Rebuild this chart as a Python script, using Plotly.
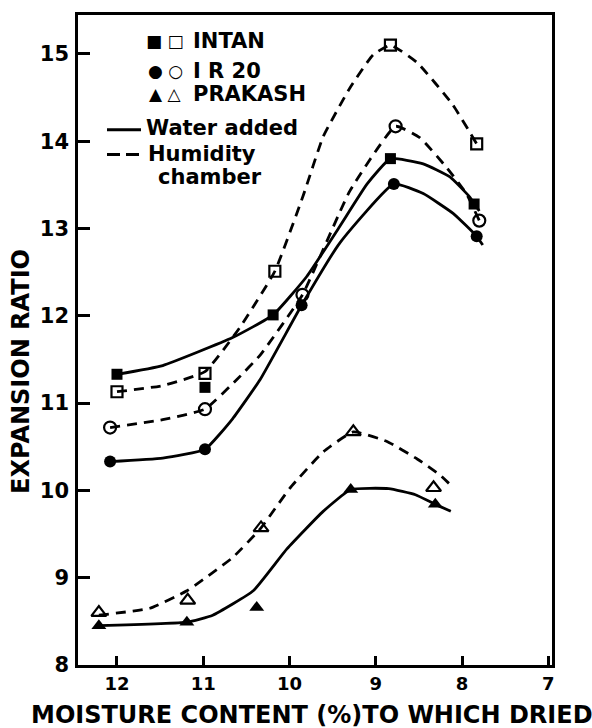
import plotly.graph_objects as go

# Measured points: moisture content (%) vs expansion ratio
intan_water_x = [12.0, 10.98, 10.19, 8.83, 7.86]
intan_water_y = [11.33, 11.18, 12.01, 13.80, 13.28]
intan_hum_x = [12.0, 10.98, 10.17, 8.83, 7.83]
intan_hum_y = [11.13, 11.34, 12.51, 15.10, 13.97]
ir20_water_x = [12.08, 10.98, 9.86, 8.79, 7.83]
ir20_water_y = [10.33, 10.47, 12.12, 13.51, 12.91]
ir20_hum_x = [12.08, 10.98, 9.85, 8.77, 7.80]
ir20_hum_y = [10.72, 10.93, 12.24, 14.17, 13.09]
prakash_water_x = [12.21, 11.19, 10.38, 9.29, 8.31]
prakash_water_y = [8.45, 8.49, 8.66, 10.01, 9.84]
prakash_hum_x = [12.21, 11.18, 10.33, 9.26, 8.33]
prakash_hum_y = [8.60, 8.74, 9.57, 10.67, 10.03]

# Hand-fitted trend curves
intan_water_cx = [12.0, 11.47, 10.66, 10.19, 9.80, 9.42, 9.10, 8.83, 8.45, 8.14, 7.91, 7.80]
intan_water_cy = [11.33, 11.43, 11.75, 12.01, 12.45, 13.02, 13.51, 13.80, 13.74, 13.59, 13.36, 13.20]
intan_hum_cx = [12.0, 11.47, 10.98, 10.58, 10.17, 9.84, 9.61, 9.30, 9.03, 8.83, 8.52, 8.11, 7.83]
intan_hum_cy = [11.13, 11.20, 11.36, 11.86, 12.51, 13.38, 14.05, 14.61, 14.99, 15.10, 14.90, 14.42, 13.97]
ir20_water_cx = [12.08, 11.47, 10.98, 10.66, 10.34, 9.86, 9.42, 8.79, 8.45, 8.10, 7.83, 7.76]
ir20_water_cy = [10.33, 10.37, 10.47, 10.82, 11.27, 12.12, 12.83, 13.51, 13.40, 13.17, 12.91, 12.81]
ir20_hum_cx = [12.08, 11.47, 10.98, 10.61, 10.34, 9.85, 9.30, 8.77, 8.49, 8.18, 7.95, 7.80]
ir20_hum_cy = [10.72, 10.81, 10.93, 11.27, 11.55, 12.24, 13.43, 14.17, 14.04, 13.70, 13.40, 13.09]
prakash_water_cx = [12.21, 11.19, 10.89, 10.42, 10.03, 9.61, 9.29, 8.85, 8.54, 8.31, 8.13]
prakash_water_cy = [8.45, 8.49, 8.57, 8.85, 9.33, 9.76, 10.01, 10.02, 9.95, 9.84, 9.76]
prakash_hum_cx = [12.21, 11.62, 11.19, 10.66, 10.33, 10.00, 9.61, 9.26, 8.87, 8.52, 8.26, 8.12]
prakash_hum_cy = [8.57, 8.65, 8.85, 9.23, 9.57, 10.02, 10.44, 10.67, 10.56, 10.36, 10.18, 10.05]

x_ticks = [12, 11, 10, 9, 8, 7]
y_ticks = [8, 9, 10, 11, 12, 13, 14, 15]

INK = "black"
DASH = "10px,7px"

fig = go.Figure()

curves = [
    (intan_water_cx, intan_water_cy, "solid"),
    (intan_hum_cx, intan_hum_cy, DASH),
    (ir20_water_cx, ir20_water_cy, "solid"),
    (ir20_hum_cx, ir20_hum_cy, DASH),
    (prakash_water_cx, prakash_water_cy, "solid"),
    (prakash_hum_cx, prakash_hum_cy, DASH),
]
for cx, cy, dash in curves:
    fig.add_trace(go.Scatter(
        x=cx, y=cy, mode="lines",
        line=dict(color=INK, width=2.8, dash=dash, shape="spline", smoothing=0.4),
        showlegend=False, hoverinfo="skip"))

points = [
    (intan_water_x, intan_water_y, "square", True, 11),
    (intan_hum_x, intan_hum_y, "square-open", False, 11),
    (ir20_water_x, ir20_water_y, "circle", True, 12),
    (ir20_hum_x, ir20_hum_y, "circle-open", False, 12),
    (prakash_water_x, prakash_water_y, "triangle-up", True, 13),
    (prakash_hum_x, prakash_hum_y, "triangle-up-open", False, 13),
]
for px, py, sym, filled, size in points:
    fig.add_trace(go.Scatter(
        x=px, y=py, mode="markers",
        marker=dict(symbol=sym, size=size, color=INK,
                    line=dict(color=INK, width=2.2 if not filled else 0)),
        showlegend=False))

# Legend block drawn inside the plot area
L, R, T, B = 78, 552, 13, 665


def pxx(v):
    return (v - L) / (R - L)


def pxy(v):
    return (B - v) / (B - T)


LEG_FONT = dict(family="DejaVu Sans", size=21, color=INK, weight="bold")
SYM_FONT = dict(family="DejaVu Sans", size=17, color=INK)

legend_rows = [
    ("\u25A0 \u25A1", "INTAN", 39),
    ("\u25CF \u25CB", "I R 20", 69),
    ("\u25B2 \u25B3", "PRAKASH", 92),
]
annotations = []
for sym, name, yy in legend_rows:
    annotations.append(dict(text=sym, x=pxx(165), y=pxy(yy), xref="paper", yref="paper",
                            xanchor="center", yanchor="middle", showarrow=False, font=SYM_FONT))
    annotations.append(dict(text=name, x=pxx(191), y=pxy(yy), xref="paper", yref="paper",
                            xanchor="left", yanchor="middle", showarrow=False, font=LEG_FONT))

annotations += [
    dict(text="Water added", x=pxx(144), y=pxy(126), xref="paper", yref="paper",
         xanchor="left", yanchor="middle", showarrow=False, font=LEG_FONT),
    dict(text="Humidity", x=pxx(146), y=pxy(152), xref="paper", yref="paper",
         xanchor="left", yanchor="middle", showarrow=False, font=LEG_FONT),
    dict(text="chamber", x=pxx(156), y=pxy(175), xref="paper", yref="paper",
         xanchor="left", yanchor="middle", showarrow=False, font=LEG_FONT),
    # axis titles
    dict(text="EXPANSION RATIO", x=pxx(21), y=pxy(371), xref="paper", yref="paper",
         xanchor="center", yanchor="middle", textangle=-90, showarrow=False,
         font=dict(family="DejaVu Sans", size=24, color=INK, weight="bold")),
    dict(text="MOISTURE CONTENT (%)TO WHICH DRIED", x=pxx(312), y=pxy(715),
         xref="paper", yref="paper", xanchor="center", yanchor="middle", showarrow=False,
         font=dict(family="DejaVu Sans", size=24, color=INK, weight="bold")),
]

shapes = [
    dict(type="line", xref="paper", yref="paper", x0=pxx(107), x1=pxx(141),
         y0=pxy(128), y1=pxy(128), line=dict(color=INK, width=3)),
    dict(type="line", xref="paper", yref="paper", x0=pxx(107), x1=pxx(141),
         y0=pxy(153), y1=pxy(153), line=dict(color=INK, width=3, dash="13px,6px")),
]

axis_common = dict(
    showline=True, linecolor=INK, linewidth=2.5, mirror=True,
    ticks="inside", tickcolor=INK, tickwidth=2.5,
    showgrid=False, zeroline=False,
)

fig.update_layout(
    width=592, height=728,
    margin=dict(l=L, r=592 - R, t=T, b=728 - B),
    paper_bgcolor="white", plot_bgcolor="white",
    xaxis=dict(range=[12.452, 6.957], tickvals=x_ticks, ticklen=9,
               ticklabelstandoff=1,
               tickfont=dict(family="DejaVu Sans", size=18, color=INK, weight="bold"),
               **axis_common),
    yaxis=dict(range=[8, 15.445], tickvals=y_ticks, ticklen=12,
               ticklabelstandoff=2,
               tickfont=dict(family="DejaVu Sans", size=21, color=INK, weight="bold"),
               **axis_common),
    annotations=annotations,
    shapes=shapes,
    showlegend=False,
)

fig.write_html("out.html")
